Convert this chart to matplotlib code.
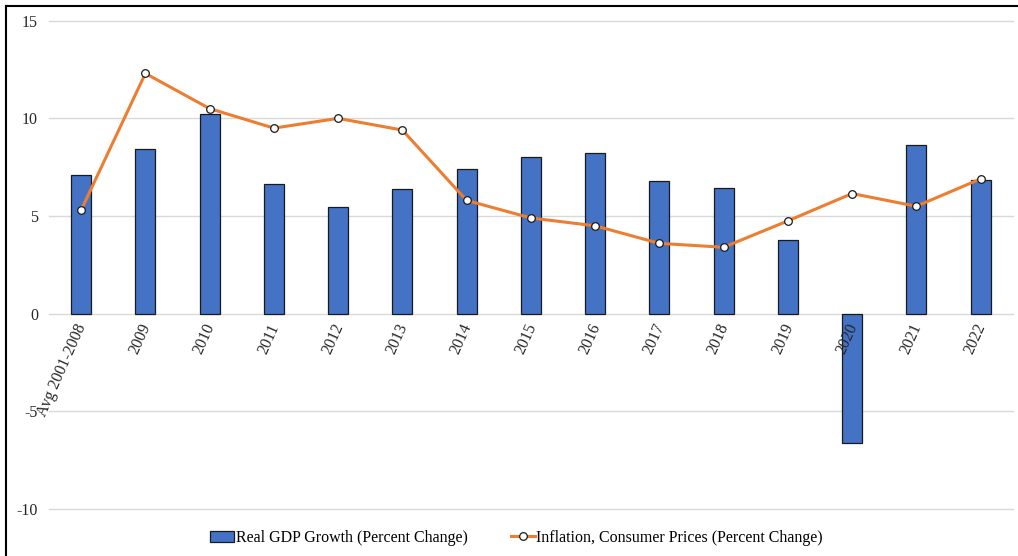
import matplotlib.pyplot as plt
import numpy as np
from matplotlib.lines import Line2D

categories = ['Avg 2001-2008', '2009', '2010', '2011', '2012', '2013', '2014', '2015',
              '2016', '2017', '2018', '2019', '2020', '2021', '2022']
gdp_growth = [7.1, 8.45, 10.2, 6.65, 5.45, 6.4, 7.4, 8.0, 8.25, 6.8, 6.45, 3.75, -6.6, 8.65, 6.85]
inflation = [5.3, 12.3, 10.5, 9.5, 10.0, 9.4, 5.8, 4.9, 4.5, 3.6, 3.4, 4.75, 6.15, 5.5, 6.9]
y_ticks = [-10, -5, 0, 5, 10, 15]

plt.rcParams['font.family'] = ['Liberation Serif', 'DejaVu Serif']
plt.rcParams['axes.unicode_minus'] = False

fig = plt.figure(figsize=(10.18, 5.56), dpi=100)
ax = fig.add_axes([49 / 1018, 47 / 556, (1012.7 - 49) / 1018, (509 - 20.7) / 556])

x = np.arange(len(categories))
bars = ax.bar(x, gdp_growth, width=0.31, color='#4472C4', edgecolor='#1a1a1a', linewidth=0.9,
              label='Real GDP Growth (Percent Change)', zorder=3)
line, = ax.plot(x, inflation, color='#ED7D31', linewidth=2.2, marker='o', markersize=5.5,
                markerfacecolor='white', markeredgecolor='#1a1a1a', markeredgewidth=0.9,
                label='Inflation, Consumer Prices (Percent Change)', zorder=4)

ax.set_xlim(-0.5, len(categories) - 0.5)
ax.set_ylim(-10, 15)
ax.set_yticks(y_ticks)
for yv in y_ticks:
    ax.axhline(yv, color='#D9D9D9', linewidth=1.0, zorder=1, clip_on=False)
for s in ax.spines.values():
    s.set_visible(False)
ax.tick_params(axis='both', length=0, labelsize=11.5, colors='#262626')
ax.tick_params(axis='y', pad=8)

# category labels sit just under the zero line, rotated
ax.set_xticks([])
for xi, lab in zip(x, categories):
    ax.text(xi + 0.02, -0.55, lab, rotation=66, ha='right', va='center',
            rotation_mode='anchor', fontsize=11.5, color='#262626')

ax.legend([bars, line], [bars.get_label(), line.get_label()],
          loc='lower center', bbox_to_anchor=(0.485, -0.105), ncol=2, frameon=False,
          fontsize=11.5, handlelength=1.5, handletextpad=0.1, columnspacing=2.7)

# outer border along top and left
fig.add_artist(Line2D([6 / 1018, 1], [1 - 6 / 556, 1 - 6 / 556], transform=fig.transFigure,
                      color='black', linewidth=1.5))
fig.add_artist(Line2D([6 / 1018, 6 / 1018], [0, 1 - 6 / 556], transform=fig.transFigure,
                      color='black', linewidth=1.5))

fig.savefig('out.png', dpi=100)
